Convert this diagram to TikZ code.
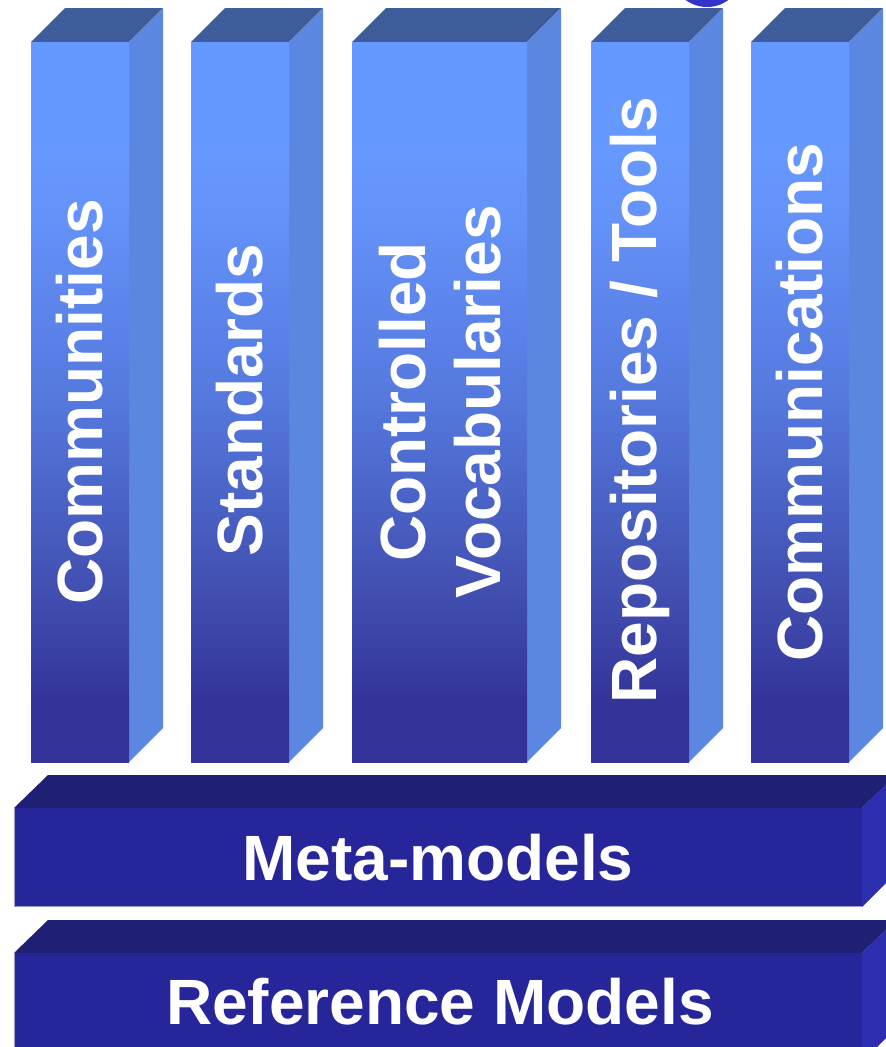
\documentclass[tikz,border=0pt]{standalone}
\usepackage{fontspec}
\setmainfont{Liberation Sans}
\definecolor{topface}{HTML}{3D5C99}
\definecolor{sideface}{HTML}{5B87E0}
\definecolor{slabfront}{HTML}{26269A}
\definecolor{slabtop}{HTML}{1F1F73}
\definecolor{slabside}{HTML}{2D2DB0}
\definecolor{slabedge}{HTML}{9A9AD8}
\definecolor{knob}{HTML}{3333CC}
\pgfdeclareverticalshading{pillarshade}{100bp}{
  rgb(0bp)=(0.2,0.2,0.6);
  rgb(29bp)=(0.2,0.2,0.6);
  rgb(36bp)=(0.25,0.3,0.68);
  rgb(50bp)=(0.33,0.47,0.87);
  rgb(62.5bp)=(0.39,0.57,0.97);
  rgb(68bp)=(0.4,0.6,1);
  rgb(100bp)=(0.4,0.6,1)}
\tikzset{
  vlabel/.style={rotate=90, text=white, font=\bfseries\fontsize{64}{75}\selectfont, align=center, inner sep=0pt},
  hlabel/.style={text=white, font=\bfseries\fontsize{64}{75}\selectfont, inner sep=0pt},
}
\begin{document}
\begin{tikzpicture}[x=1pt,y=-1pt]
\useasboundingbox (0,0) rectangle (886,1047);
\clip (0,0) rectangle (886,1047);
% knob at top
\fill[knob] (707,-29) circle (36);
% pillars
\foreach \xa/\xb in {31/129, 191/289, 352/527, 591/689, 751/849}{
  \fill[topface] (\xa,42) -- (\xa+34,8) -- (\xb+34,8) -- (\xb,42) -- cycle;
  \fill[sideface] (\xb,42) -- (\xb+34,8) -- (\xb+34,728) -- (\xb,762) -- cycle;
  \shade[shading=pillarshade] (\xa,42) rectangle (\xb,762);
}
\node[vlabel] (communities) at (80,402) {Communities};
\node[vlabel] (standards) at (240,400) {Standards};
\node[vlabel] (vocab) at (440,402) {Controlled\\Vocabularies};
\node[vlabel] (repos) at (640,400) {Repositories / Tools};
\node[vlabel] (comms) at (800,402) {Communications};
% slabs
\foreach \ya/\yb in {808/907, 953/1062}{
  \fill[slabtop] (14,\ya) -- (48,\ya-33) -- (896,\ya-33) -- (862,\ya) -- cycle;
  \fill[slabside] (862,\ya) -- (896,\ya-33) -- (896,\yb-34) -- (862,\yb) -- cycle;
  \fill[slabfront] (14,\ya) rectangle (862,\yb);
  \draw[slabedge, line width=1.2pt] (14.5,\ya) -- (14.5,\yb-0.5) -- (862,\yb-0.5);
}
\node[hlabel] (meta) at (438,858) {Meta-models};
\node[hlabel] (refmodels) at (440,1002) {Reference Models};
\end{tikzpicture}
\end{document}
